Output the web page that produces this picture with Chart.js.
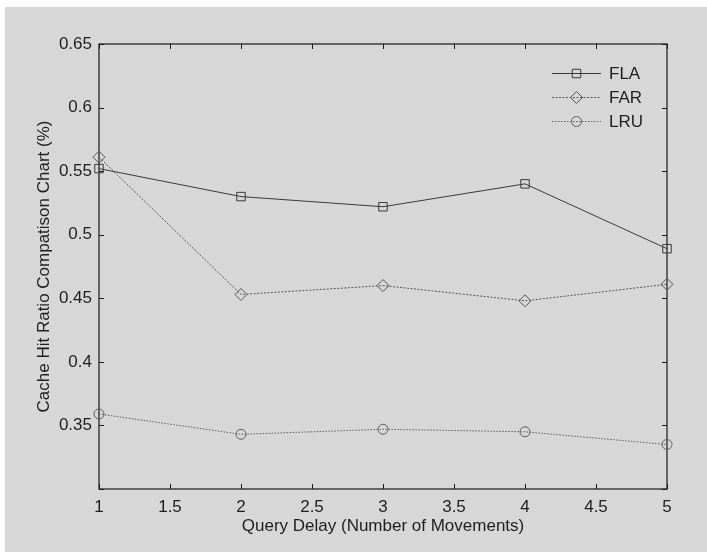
<!DOCTYPE html>
<html lang="en">
<head>
  <meta charset="UTF-8">
  <title>Cache Hit Ratio Comparison</title>
  <script src="https://cdn.jsdelivr.net/npm/chart.js"></script>
  <style>
    html, body {
      margin: 0;
      padding: 0;
      background: #ffffff;
    }
    canvas {
      display: block;
    }
  </style>
</head>
<body>
  <canvas id="grafico" width="707" height="552"></canvas>

  <script>
    // Query delay (number of movements) on the x axis
    const queryDelay = [1, 2, 3, 4, 5];

    // Cache hit ratio for each policy
    const fla = [0.552, 0.530, 0.522, 0.540, 0.489];
    const far = [0.561, 0.453, 0.460, 0.448, 0.461];
    const lru = [0.359, 0.343, 0.347, 0.345, 0.335];

    const xTicks = [1, 1.5, 2, 2.5, 3, 3.5, 4, 4.5, 5];
    const xTickLabels = ['1', '1.5', '2', '2.5', '3', '3.5', '4', '4.5', '5'];
    const yTicks = [0.3, 0.35, 0.4, 0.45, 0.5, 0.55, 0.6, 0.65];
    const yTickLabels = ['', '0.35', '0.4', '0.45', '0.5', '0.55', '0.6', '0.65'];

    const FONT = "'Liberation Sans', Arial, Helvetica, sans-serif";
    Chart.defaults.font.family = FONT;
    Chart.defaults.font.size = 17;
    Chart.defaults.color = '#1e1e1e';

    function puntos(valores) {
      return queryDelay.map((x, i) => ({ x: x, y: valores[i] }));
    }

    // paper-like grey backdrop, leaving a thin white edge at the top left
    const fondo = {
      id: 'fondo',
      beforeDraw(chart) {
        const ctx = chart.ctx;
        ctx.save();
        ctx.fillStyle = '#ffffff';
        ctx.fillRect(0, 0, chart.width, chart.height);
        ctx.fillStyle = '#d7d7d7';
        ctx.fillRect(5, 7, chart.width - 5, chart.height - 7);
        ctx.restore();
      }
    };

    // box around the axes with inward ticks on all four sides
    const marco = {
      id: 'marco',
      beforeDatasetsDraw(chart) {
        const { ctx, chartArea: a, scales } = chart;
        const largo = 5;
        ctx.save();
        ctx.strokeStyle = '#1a1a1a';
        ctx.lineWidth = 1.2;
        ctx.strokeRect(a.left, a.top, a.right - a.left, a.bottom - a.top);
        ctx.lineWidth = 1;
        ctx.beginPath();
        xTicks.forEach(v => {
          const px = Math.round(scales.x.getPixelForValue(v)) + 0.5;
          ctx.moveTo(px, a.bottom); ctx.lineTo(px, a.bottom - largo);
          ctx.moveTo(px, a.top); ctx.lineTo(px, a.top + largo);
        });
        yTicks.forEach(v => {
          const py = Math.round(scales.y.getPixelForValue(v)) + 0.5;
          ctx.moveTo(a.left, py); ctx.lineTo(a.left + largo, py);
          ctx.moveTo(a.right, py); ctx.lineTo(a.right - largo, py);
        });
        ctx.stroke();
        ctx.restore();
      }
    };

    // MATLAB-style legend: line sample with marker in the middle
    const leyenda = {
      id: 'leyenda',
      afterDraw(chart) {
        const ctx = chart.ctx;
        const x0 = 552, x1 = 601, xt = 609;
        const filas = [73, 97, 121];
        ctx.save();
        chart.data.datasets.forEach((ds, i) => {
          const y = filas[i];
          ctx.strokeStyle = ds.borderColor;
          ctx.lineWidth = ds.borderWidth;
          ctx.setLineDash(ds.borderDash || []);
          ctx.beginPath();
          ctx.moveTo(x0, y + 0.5);
          ctx.lineTo(x1, y + 0.5);
          ctx.stroke();
          ctx.setLineDash([]);
          ctx.fillStyle = 'rgba(0,0,0,0)';
          ctx.strokeStyle = ds.pointBorderColor;
          ctx.lineWidth = 1;
          Chart.helpers.drawPoint(ctx, {
            pointStyle: ds.pointStyle,
            radius: ds.pointRadius,
            rotation: 0,
            borderWidth: 1
          }, (x0 + x1) / 2, y + 0.5);
          ctx.fillStyle = '#1e1e1e';
          ctx.font = '17px ' + FONT;
          ctx.textBaseline = 'middle';
          ctx.textAlign = 'left';
          ctx.fillText(ds.label, xt, y + 1);
        });
        ctx.restore();
      }
    };

    const serie = (label, datos, color, dash, estilo, radio) => ({
      label: label,
      data: puntos(datos),
      borderColor: color,
      borderWidth: 1,
      borderDash: dash,
      pointStyle: estilo,
      pointRadius: radio,
      pointBorderColor: color,
      pointBackgroundColor: 'rgba(0,0,0,0)',
      pointBorderWidth: 1,
      tension: 0,
      clip: false
    });

    new Chart(document.getElementById('grafico'), {
      type: 'line',
      data: {
        datasets: [
          serie('FLA', fla, '#3a3a3a', [], 'rect', 6),
          serie('FAR', far, '#555555', [2, 1.5], 'rectRot', 6),
          serie('LRU', lru, '#5e5e5e', [1.5, 1.5], 'circle', 5)
        ]
      },
      options: {
        responsive: false,
        animation: false,
        events: [],
        layout: { padding: { top: 44, right: 40, left: 0, bottom: 0 } },
        plugins: {
          legend: { display: false },
          tooltip: { enabled: false }
        },
        scales: {
          x: {
            type: 'linear',
            min: 1,
            max: 5,
            afterBuildTicks: s => { s.ticks = xTicks.map(v => ({ value: v })); },
            afterFit: s => { s.height = 63; },
            ticks: {
              padding: 8,
              maxRotation: 0,
              callback: (v, i) => xTickLabels[i]
            },
            grid: { display: false, drawTicks: false },
            border: { display: false },
            title: {
              display: true,
              text: 'Query Delay (Number of Movements)',
              padding: { top: 0, bottom: 15 }
            }
          },
          y: {
            type: 'linear',
            min: 0.3,
            max: 0.65,
            afterBuildTicks: s => { s.ticks = yTicks.map(v => ({ value: v })); },
            afterFit: s => { s.width = 99; },
            ticks: {
              padding: 7,
              callback: (v, i) => yTickLabels[i]
            },
            grid: { display: false, drawTicks: false },
            border: { display: false },
            title: {
              display: true,
              text: 'Cache Hit Ratio Compatison Chart (%)',
              padding: { top: 34, bottom: 0 }
            }
          }
        }
      },
      plugins: [fondo, marco, leyenda]
    });
  </script>
</body>
</html>
